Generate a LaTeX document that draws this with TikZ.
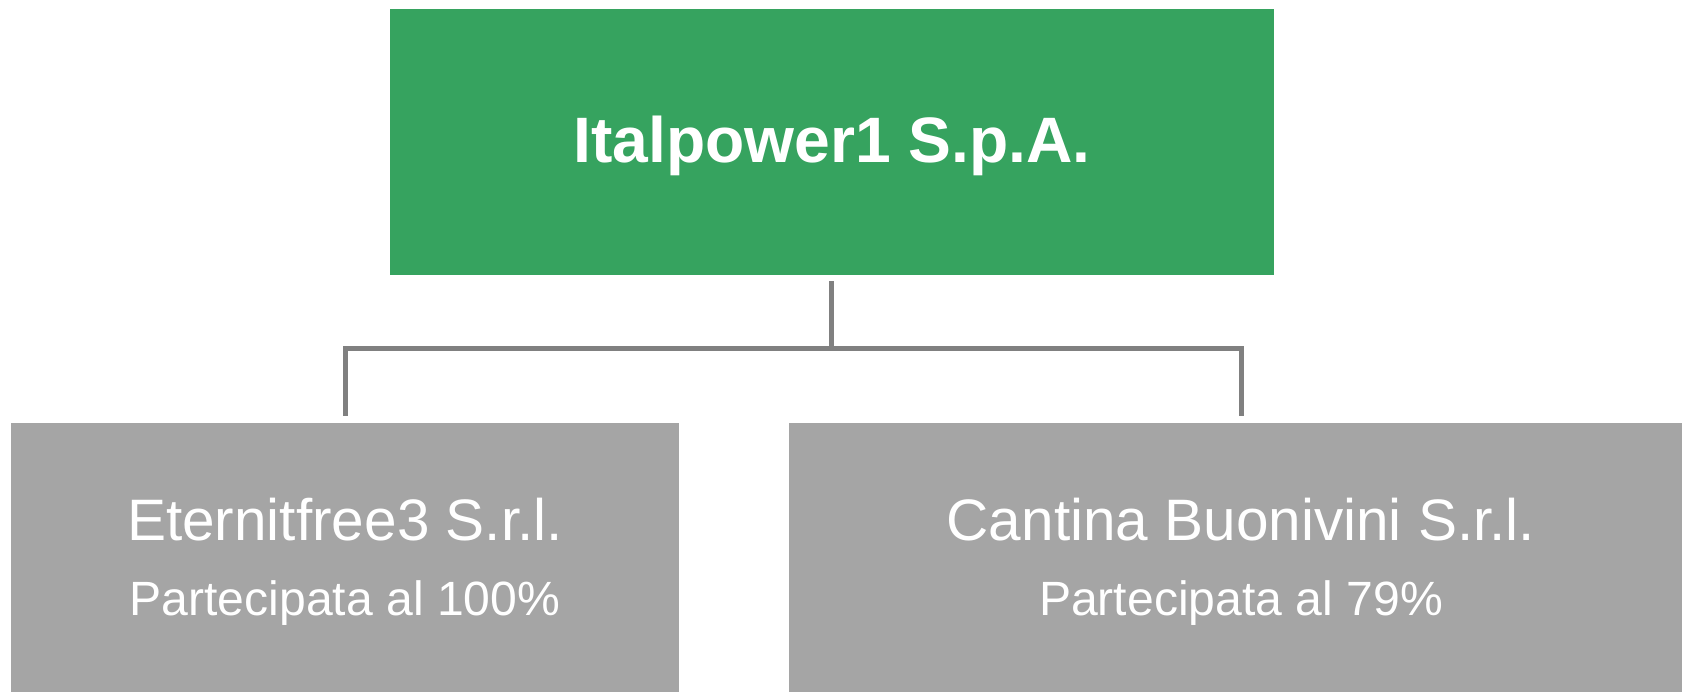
\documentclass[tikz,border=0pt]{standalone}
\usepackage{fontspec}
\setmainfont{Liberation Sans}
\definecolor{boxgreen}{RGB}{54,163,95}
\definecolor{boxgray}{RGB}{165,165,165}
\definecolor{linegray}{RGB}{128,128,128}
\tikzset{
  greenbox/.style={rectangle, fill=boxgreen, draw=none, inner sep=0pt},
  graybox/.style={rectangle, fill=boxgray, draw=none, inner sep=0pt},
  txt/.style={text=white, inner sep=0pt, anchor=base},
  conn/.style={draw=linegray, line width=5pt, line join=miter}
}
\begin{document}
\begin{tikzpicture}[x=1pt,y=-1pt]
\clip (0,0) rectangle (1682,692);
\fill[white] (0,0) rectangle (1682,692);
\node[greenbox, minimum width=884pt, minimum height=266pt] (top) at (831.5,141.6) {};
\node[graybox, minimum width=668.5pt, minimum height=290pt] (left) at (345,567.7) {};
\node[graybox, minimum width=905pt, minimum height=290pt] (right) at (1241,567.7) {};
\node[txt, font=\fontsize{64.2}{70}\bfseries] (toptext) at (832,163) {Italpower1 S.p.A.};
\node[txt, font=\fontsize{58.5}{64}\selectfont] (lefttitle) at (345,540.5) {Eternitfree3 S.r.l.};
\node[txt, font=\fontsize{48.1}{52}\selectfont] (leftsub) at (345,615) {Partecipata al 100\%};
\node[txt, font=\fontsize{58.5}{64}\selectfont] (righttitle) at (1241,540.5) {Cantina Buonivini S.r.l.};
\node[txt, font=\fontsize{48.1}{52}\selectfont] (rightsub) at (1241,615) {Partecipata al 79\%};
\coordinate (bus) at (831.5,348.7);
\draw[conn] ([yshift=-6.3pt]top.south) -- (bus) -| ([yshift=6.4pt]left.north);
\draw[conn] (bus) -| ([yshift=6.4pt]right.north);
\end{tikzpicture}
\end{document}
